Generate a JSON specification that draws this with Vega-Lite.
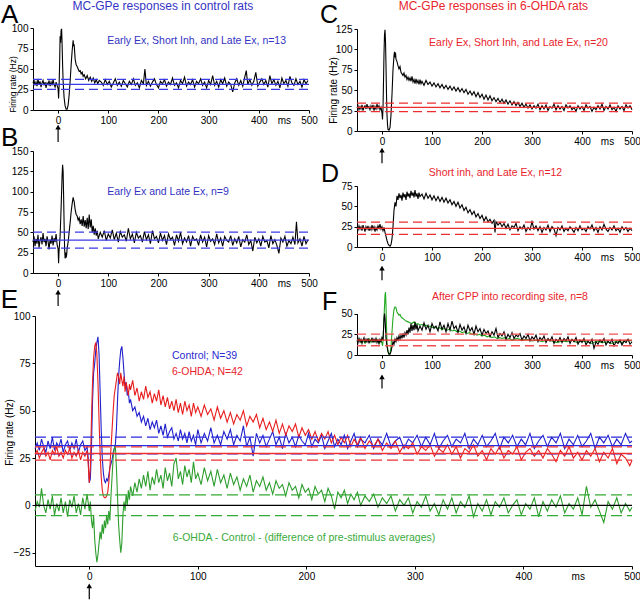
{
"$schema": "https://vega.github.io/schema/vega-lite/v6.json",
"width": 640, "height": 600, "autosize": "none", "padding": 0, "background": "white",
"config": {
  "view": {"stroke": null},
  "axis": {"grid": false, "domainColor": "#000", "tickColor": "#000", "labelColor": "#000", "labelFont": "Liberation Sans Narrow, Liberation Sans, Arial, sans-serif", "labelFontSize": 10, "tickSize": 3, "labelPadding": 2, "domainWidth": 1, "titleFont": "Liberation Sans Narrow, Liberation Sans, Arial, sans-serif", "titleFontWeight": "normal", "titleColor": "#000", "labelFlush": false, "labelOverlap": false},
  "text": {"font": "Liberation Sans, Arial, sans-serif"}
},
"datasets": {
"A": [{"t":-50,"v":33},{"t":-48,"v":36},{"t":-46,"v":30},{"t":-44,"v":34},{"t":-42,"v":29},{"t":-40,"v":38},{"t":-38,"v":31},{"t":-36,"v":35},{"t":-34,"v":28},{"t":-32,"v":33},{"t":-30,"v":36},{"t":-28,"v":30},{"t":-26,"v":34},{"t":-24,"v":27},{"t":-22,"v":33},{"t":-20,"v":31},{"t":-18,"v":36},{"t":-16,"v":29},{"t":-14,"v":34},{"t":-12,"v":30},{"t":-10,"v":37},{"t":-8,"v":31},{"t":-6,"v":28},{"t":-4,"v":34},{"t":-2,"v":30},{"t":0,"v":26},{"t":1,"v":14},{"t":2,"v":30},{"t":3,"v":55},{"t":4,"v":90},{"t":5,"v":82},{"t":6,"v":97},{"t":7,"v":99},{"t":8,"v":80},{"t":9,"v":55},{"t":10,"v":35},{"t":12,"v":15},{"t":14,"v":5},{"t":16,"v":1},{"t":18,"v":1},{"t":20,"v":6},{"t":22,"v":18},{"t":24,"v":35},{"t":26,"v":55},{"t":28,"v":72},{"t":30,"v":85},{"t":31,"v":78},{"t":32,"v":80},{"t":34,"v":62},{"t":36,"v":55},{"t":38,"v":53},{"t":40,"v":50},{"t":42,"v":47},{"t":44,"v":48},{"t":46,"v":44},{"t":48,"v":46},{"t":50,"v":41},{"t":52,"v":43},{"t":55,"v":38},{"t":58,"v":42},{"t":61,"v":36},{"t":64,"v":40},{"t":67,"v":35},{"t":70,"v":39},{"t":73,"v":33},{"t":76,"v":37},{"t":79,"v":32},{"t":82,"v":36},{"t":86,"v":34},{"t":90,"v":30},{"t":94,"v":37},{"t":98,"v":31},{"t":102,"v":35},{"t":106,"v":28},{"t":110,"v":33},{"t":114,"v":38},{"t":118,"v":30},{"t":122,"v":34},{"t":126,"v":29},{"t":130,"v":36},{"t":134,"v":32},{"t":138,"v":28},{"t":142,"v":35},{"t":146,"v":31},{"t":150,"v":38},{"t":154,"v":30},{"t":158,"v":33},{"t":162,"v":27},{"t":166,"v":36},{"t":170,"v":32},{"t":173,"v":50},{"t":176,"v":30},{"t":180,"v":35},{"t":184,"v":29},{"t":188,"v":34},{"t":192,"v":38},{"t":196,"v":31},{"t":200,"v":27},{"t":204,"v":35},{"t":208,"v":32},{"t":212,"v":37},{"t":216,"v":29},{"t":220,"v":34},{"t":224,"v":31},{"t":228,"v":39},{"t":232,"v":30},{"t":236,"v":33},{"t":240,"v":27},{"t":244,"v":36},{"t":248,"v":32},{"t":252,"v":40},{"t":256,"v":29},{"t":260,"v":34},{"t":264,"v":31},{"t":268,"v":37},{"t":272,"v":28},{"t":276,"v":35},{"t":280,"v":32},{"t":284,"v":38},{"t":288,"v":30},{"t":292,"v":34},{"t":296,"v":27},{"t":300,"v":36},{"t":304,"v":31},{"t":308,"v":42},{"t":312,"v":30},{"t":316,"v":35},{"t":320,"v":28},{"t":324,"v":37},{"t":328,"v":32},{"t":332,"v":39},{"t":336,"v":29},{"t":340,"v":34},{"t":344,"v":31},{"t":348,"v":22},{"t":352,"v":33},{"t":356,"v":38},{"t":360,"v":30},{"t":364,"v":36},{"t":368,"v":29},{"t":372,"v":40},{"t":375,"v":48},{"t":378,"v":31},{"t":382,"v":37},{"t":386,"v":30},{"t":390,"v":35},{"t":394,"v":46},{"t":398,"v":29},{"t":402,"v":34},{"t":406,"v":38},{"t":410,"v":31},{"t":414,"v":36},{"t":418,"v":28},{"t":422,"v":42},{"t":426,"v":32},{"t":430,"v":37},{"t":434,"v":30},{"t":438,"v":35},{"t":442,"v":27},{"t":446,"v":39},{"t":450,"v":32},{"t":454,"v":36},{"t":458,"v":29},{"t":462,"v":41},{"t":466,"v":33},{"t":470,"v":30},{"t":474,"v":38},{"t":478,"v":31},{"t":482,"v":35},{"t":486,"v":28},{"t":490,"v":37},{"t":494,"v":32},{"t":498,"v":36}],
"B": [{"t":-50,"v":38},{"t":-48,"v":45},{"t":-46,"v":33},{"t":-44,"v":42},{"t":-42,"v":36},{"t":-40,"v":47},{"t":-38,"v":31},{"t":-36,"v":40},{"t":-34,"v":44},{"t":-32,"v":35},{"t":-30,"v":49},{"t":-28,"v":38},{"t":-26,"v":42},{"t":-24,"v":33},{"t":-22,"v":45},{"t":-20,"v":39},{"t":-18,"v":29},{"t":-16,"v":41},{"t":-14,"v":36},{"t":-12,"v":46},{"t":-10,"v":34},{"t":-8,"v":43},{"t":-6,"v":38},{"t":-4,"v":48},{"t":-2,"v":35},{"t":0,"v":30},{"t":1,"v":12},{"t":2,"v":28},{"t":4,"v":45},{"t":6,"v":80},{"t":8,"v":120},{"t":9,"v":133},{"t":10,"v":125},{"t":11,"v":95},{"t":12,"v":60},{"t":13,"v":30},{"t":14,"v":18},{"t":15,"v":25},{"t":16,"v":19},{"t":17,"v":22},{"t":18,"v":30},{"t":20,"v":38},{"t":22,"v":50},{"t":24,"v":62},{"t":26,"v":75},{"t":28,"v":85},{"t":30,"v":93},{"t":31,"v":90},{"t":32,"v":88},{"t":34,"v":78},{"t":36,"v":72},{"t":38,"v":70},{"t":40,"v":65},{"t":42,"v":68},{"t":44,"v":60},{"t":46,"v":66},{"t":48,"v":58},{"t":50,"v":70},{"t":52,"v":57},{"t":54,"v":65},{"t":56,"v":55},{"t":58,"v":68},{"t":60,"v":54},{"t":62,"v":72},{"t":64,"v":56},{"t":66,"v":66},{"t":68,"v":50},{"t":70,"v":58},{"t":72,"v":47},{"t":74,"v":55},{"t":76,"v":46},{"t":78,"v":52},{"t":80,"v":42},{"t":84,"v":50},{"t":88,"v":44},{"t":92,"v":52},{"t":96,"v":40},{"t":100,"v":48},{"t":104,"v":43},{"t":108,"v":53},{"t":112,"v":41},{"t":116,"v":49},{"t":120,"v":38},{"t":124,"v":51},{"t":128,"v":44},{"t":132,"v":47},{"t":136,"v":39},{"t":140,"v":55},{"t":144,"v":42},{"t":148,"v":48},{"t":152,"v":37},{"t":156,"v":50},{"t":160,"v":43},{"t":164,"v":46},{"t":168,"v":38},{"t":172,"v":51},{"t":176,"v":41},{"t":180,"v":47},{"t":184,"v":36},{"t":188,"v":52},{"t":192,"v":42},{"t":196,"v":45},{"t":200,"v":37},{"t":204,"v":49},{"t":208,"v":40},{"t":212,"v":46},{"t":216,"v":35},{"t":220,"v":48},{"t":224,"v":41},{"t":228,"v":44},{"t":232,"v":34},{"t":236,"v":47},{"t":240,"v":39},{"t":244,"v":50},{"t":248,"v":36},{"t":252,"v":43},{"t":256,"v":38},{"t":260,"v":46},{"t":264,"v":33},{"t":268,"v":45},{"t":272,"v":40},{"t":276,"v":42},{"t":280,"v":34},{"t":284,"v":47},{"t":288,"v":38},{"t":292,"v":44},{"t":296,"v":32},{"t":300,"v":46},{"t":304,"v":39},{"t":308,"v":42},{"t":312,"v":35},{"t":316,"v":48},{"t":320,"v":37},{"t":324,"v":43},{"t":328,"v":33},{"t":332,"v":45},{"t":336,"v":40},{"t":340,"v":38},{"t":344,"v":46},{"t":348,"v":34},{"t":352,"v":42},{"t":356,"v":37},{"t":360,"v":45},{"t":364,"v":32},{"t":368,"v":41},{"t":372,"v":38},{"t":376,"v":47},{"t":380,"v":35},{"t":384,"v":40},{"t":388,"v":27},{"t":392,"v":44},{"t":396,"v":37},{"t":400,"v":42},{"t":404,"v":33},{"t":408,"v":45},{"t":412,"v":38},{"t":416,"v":40},{"t":420,"v":31},{"t":424,"v":46},{"t":428,"v":36},{"t":432,"v":41},{"t":436,"v":34},{"t":440,"v":24},{"t":444,"v":43},{"t":448,"v":38},{"t":452,"v":45},{"t":456,"v":33},{"t":460,"v":40},{"t":464,"v":36},{"t":468,"v":44},{"t":472,"v":35},{"t":475,"v":63},{"t":478,"v":37},{"t":482,"v":42},{"t":486,"v":33},{"t":490,"v":45},{"t":494,"v":36},{"t":498,"v":41}],
"C": [{"t":-50,"v":28},{"t":-48,"v":31},{"t":-46,"v":26},{"t":-44,"v":30},{"t":-42,"v":27},{"t":-40,"v":32},{"t":-38,"v":25},{"t":-36,"v":29},{"t":-34,"v":31},{"t":-32,"v":27},{"t":-30,"v":33},{"t":-28,"v":28},{"t":-26,"v":30},{"t":-24,"v":26},{"t":-22,"v":31},{"t":-20,"v":28},{"t":-18,"v":32},{"t":-16,"v":25},{"t":-14,"v":30},{"t":-12,"v":27},{"t":-10,"v":33},{"t":-8,"v":28},{"t":-6,"v":31},{"t":-4,"v":26},{"t":-2,"v":29},{"t":0,"v":22},{"t":1,"v":14},{"t":2,"v":28},{"t":3,"v":60},{"t":4,"v":95},{"t":5,"v":118},{"t":6,"v":124},{"t":7,"v":110},{"t":8,"v":80},{"t":9,"v":45},{"t":10,"v":20},{"t":11,"v":8},{"t":12,"v":2},{"t":14,"v":1},{"t":16,"v":4},{"t":18,"v":20},{"t":20,"v":45},{"t":22,"v":75},{"t":24,"v":92},{"t":25,"v":97},{"t":26,"v":90},{"t":27,"v":96},{"t":28,"v":88},{"t":30,"v":85},{"t":32,"v":80},{"t":34,"v":76},{"t":36,"v":79},{"t":38,"v":72},{"t":40,"v":70},{"t":42,"v":68},{"t":44,"v":71},{"t":46,"v":66},{"t":48,"v":68},{"t":50,"v":63},{"t":52,"v":66},{"t":54,"v":62},{"t":56,"v":65},{"t":58,"v":61},{"t":60,"v":67},{"t":62,"v":60},{"t":64,"v":63},{"t":66,"v":58},{"t":68,"v":64},{"t":70,"v":59},{"t":72,"v":62},{"t":74,"v":57},{"t":76,"v":63},{"t":78,"v":58},{"t":80,"v":61},{"t":84,"v":56},{"t":88,"v":62},{"t":92,"v":57},{"t":96,"v":60},{"t":100,"v":55},{"t":104,"v":59},{"t":108,"v":54},{"t":112,"v":58},{"t":116,"v":53},{"t":120,"v":57},{"t":124,"v":52},{"t":128,"v":56},{"t":132,"v":51},{"t":136,"v":55},{"t":140,"v":50},{"t":144,"v":54},{"t":148,"v":49},{"t":152,"v":53},{"t":156,"v":48},{"t":160,"v":52},{"t":164,"v":47},{"t":168,"v":51},{"t":172,"v":45},{"t":176,"v":49},{"t":180,"v":44},{"t":184,"v":48},{"t":188,"v":42},{"t":192,"v":47},{"t":196,"v":41},{"t":200,"v":45},{"t":204,"v":39},{"t":208,"v":44},{"t":212,"v":38},{"t":216,"v":43},{"t":220,"v":37},{"t":224,"v":41},{"t":228,"v":36},{"t":232,"v":40},{"t":236,"v":35},{"t":240,"v":39},{"t":244,"v":34},{"t":248,"v":38},{"t":252,"v":33},{"t":256,"v":37},{"t":260,"v":32},{"t":264,"v":36},{"t":268,"v":31},{"t":272,"v":35},{"t":276,"v":30},{"t":280,"v":34},{"t":284,"v":29},{"t":288,"v":33},{"t":292,"v":28},{"t":296,"v":32},{"t":300,"v":27},{"t":304,"v":31},{"t":308,"v":28},{"t":312,"v":33},{"t":316,"v":26},{"t":320,"v":31},{"t":324,"v":27},{"t":328,"v":32},{"t":332,"v":25},{"t":336,"v":30},{"t":340,"v":28},{"t":344,"v":33},{"t":348,"v":26},{"t":352,"v":31},{"t":356,"v":27},{"t":360,"v":30},{"t":364,"v":25},{"t":368,"v":32},{"t":372,"v":28},{"t":376,"v":31},{"t":380,"v":26},{"t":384,"v":29},{"t":388,"v":24},{"t":392,"v":31},{"t":396,"v":27},{"t":400,"v":30},{"t":404,"v":25},{"t":408,"v":32},{"t":412,"v":28},{"t":416,"v":30},{"t":420,"v":24},{"t":424,"v":29},{"t":428,"v":26},{"t":432,"v":31},{"t":436,"v":27},{"t":440,"v":33},{"t":444,"v":25},{"t":448,"v":30},{"t":452,"v":27},{"t":456,"v":32},{"t":460,"v":26},{"t":464,"v":29},{"t":468,"v":24},{"t":472,"v":31},{"t":476,"v":27},{"t":480,"v":30},{"t":484,"v":25},{"t":488,"v":32},{"t":492,"v":28},{"t":496,"v":31},{"t":500,"v":26}],
"D": [{"t":-50,"v":24},{"t":-48,"v":21},{"t":-46,"v":26},{"t":-44,"v":22},{"t":-42,"v":25},{"t":-40,"v":20},{"t":-38,"v":27},{"t":-36,"v":23},{"t":-34,"v":19},{"t":-32,"v":25},{"t":-30,"v":22},{"t":-28,"v":26},{"t":-26,"v":20},{"t":-24,"v":24},{"t":-22,"v":21},{"t":-20,"v":27},{"t":-18,"v":22},{"t":-16,"v":25},{"t":-14,"v":19},{"t":-12,"v":24},{"t":-10,"v":21},{"t":-8,"v":26},{"t":-6,"v":23},{"t":-4,"v":28},{"t":-2,"v":22},{"t":0,"v":25},{"t":2,"v":20},{"t":4,"v":24},{"t":6,"v":18},{"t":8,"v":13},{"t":10,"v":8},{"t":12,"v":4},{"t":14,"v":2},{"t":16,"v":1},{"t":18,"v":3},{"t":20,"v":10},{"t":22,"v":25},{"t":24,"v":45},{"t":26,"v":55},{"t":28,"v":50},{"t":30,"v":63},{"t":32,"v":58},{"t":34,"v":66},{"t":36,"v":60},{"t":38,"v":64},{"t":40,"v":57},{"t":42,"v":67},{"t":44,"v":61},{"t":46,"v":65},{"t":48,"v":58},{"t":50,"v":68},{"t":52,"v":62},{"t":54,"v":66},{"t":56,"v":60},{"t":58,"v":69},{"t":60,"v":63},{"t":62,"v":67},{"t":64,"v":61},{"t":66,"v":70},{"t":68,"v":62},{"t":70,"v":66},{"t":72,"v":59},{"t":74,"v":67},{"t":76,"v":62},{"t":80,"v":65},{"t":84,"v":59},{"t":88,"v":66},{"t":92,"v":60},{"t":96,"v":64},{"t":100,"v":58},{"t":104,"v":63},{"t":108,"v":57},{"t":112,"v":62},{"t":116,"v":56},{"t":120,"v":61},{"t":124,"v":55},{"t":128,"v":60},{"t":132,"v":54},{"t":136,"v":58},{"t":140,"v":52},{"t":144,"v":56},{"t":148,"v":50},{"t":152,"v":55},{"t":156,"v":48},{"t":160,"v":52},{"t":164,"v":45},{"t":168,"v":49},{"t":172,"v":42},{"t":176,"v":46},{"t":180,"v":40},{"t":184,"v":44},{"t":188,"v":37},{"t":192,"v":41},{"t":196,"v":35},{"t":200,"v":39},{"t":204,"v":32},{"t":208,"v":37},{"t":212,"v":31},{"t":216,"v":34},{"t":220,"v":29},{"t":224,"v":33},{"t":226,"v":18},{"t":228,"v":31},{"t":232,"v":27},{"t":236,"v":30},{"t":240,"v":25},{"t":244,"v":29},{"t":248,"v":23},{"t":252,"v":28},{"t":256,"v":21},{"t":260,"v":26},{"t":264,"v":24},{"t":268,"v":29},{"t":272,"v":20},{"t":276,"v":25},{"t":280,"v":22},{"t":284,"v":27},{"t":288,"v":19},{"t":292,"v":24},{"t":296,"v":21},{"t":300,"v":31},{"t":304,"v":22},{"t":308,"v":26},{"t":312,"v":20},{"t":316,"v":25},{"t":320,"v":18},{"t":324,"v":24},{"t":328,"v":21},{"t":332,"v":27},{"t":336,"v":19},{"t":340,"v":25},{"t":344,"v":22},{"t":348,"v":14},{"t":352,"v":24},{"t":356,"v":21},{"t":360,"v":26},{"t":364,"v":19},{"t":368,"v":23},{"t":372,"v":20},{"t":376,"v":25},{"t":380,"v":22},{"t":384,"v":18},{"t":388,"v":24},{"t":392,"v":20},{"t":396,"v":26},{"t":400,"v":21},{"t":404,"v":23},{"t":408,"v":19},{"t":412,"v":25},{"t":416,"v":22},{"t":420,"v":27},{"t":424,"v":20},{"t":428,"v":24},{"t":432,"v":18},{"t":436,"v":25},{"t":440,"v":21},{"t":444,"v":28},{"t":448,"v":22},{"t":452,"v":19},{"t":456,"v":24},{"t":460,"v":21},{"t":464,"v":26},{"t":468,"v":20},{"t":472,"v":23},{"t":476,"v":18},{"t":480,"v":25},{"t":484,"v":21},{"t":488,"v":24},{"t":492,"v":19},{"t":496,"v":23},{"t":500,"v":20}],
"Fb": [{"t":-50,"v":18},{"t":-48,"v":15},{"t":-46,"v":20},{"t":-44,"v":16},{"t":-42,"v":19},{"t":-40,"v":14},{"t":-38,"v":18},{"t":-36,"v":21},{"t":-34,"v":15},{"t":-32,"v":19},{"t":-30,"v":16},{"t":-28,"v":20},{"t":-26,"v":14},{"t":-24,"v":18},{"t":-22,"v":17},{"t":-20,"v":21},{"t":-18,"v":15},{"t":-16,"v":19},{"t":-14,"v":16},{"t":-12,"v":20},{"t":-10,"v":15},{"t":-8,"v":18},{"t":-6,"v":14},{"t":-4,"v":19},{"t":-2,"v":16},{"t":0,"v":21},{"t":2,"v":18},{"t":3,"v":30},{"t":4,"v":44},{"t":5,"v":50},{"t":6,"v":45},{"t":7,"v":32},{"t":8,"v":20},{"t":10,"v":10},{"t":12,"v":4},{"t":14,"v":1},{"t":16,"v":1},{"t":18,"v":4},{"t":20,"v":10},{"t":22,"v":16},{"t":24,"v":13},{"t":26,"v":19},{"t":28,"v":16},{"t":30,"v":21},{"t":32,"v":18},{"t":34,"v":23},{"t":36,"v":19},{"t":38,"v":24},{"t":40,"v":20},{"t":42,"v":26},{"t":44,"v":21},{"t":46,"v":27},{"t":48,"v":24},{"t":50,"v":30},{"t":52,"v":25},{"t":54,"v":33},{"t":56,"v":27},{"t":58,"v":38},{"t":60,"v":29},{"t":62,"v":36},{"t":64,"v":30},{"t":66,"v":40},{"t":68,"v":31},{"t":70,"v":37},{"t":72,"v":29},{"t":76,"v":35},{"t":80,"v":30},{"t":84,"v":39},{"t":88,"v":31},{"t":92,"v":36},{"t":96,"v":28},{"t":100,"v":38},{"t":104,"v":32},{"t":108,"v":35},{"t":112,"v":29},{"t":116,"v":40},{"t":120,"v":31},{"t":124,"v":36},{"t":128,"v":28},{"t":132,"v":38},{"t":136,"v":30},{"t":140,"v":41},{"t":144,"v":32},{"t":148,"v":35},{"t":152,"v":27},{"t":156,"v":37},{"t":160,"v":30},{"t":164,"v":34},{"t":168,"v":26},{"t":172,"v":36},{"t":176,"v":29},{"t":180,"v":33},{"t":184,"v":25},{"t":188,"v":35},{"t":192,"v":28},{"t":196,"v":32},{"t":200,"v":24},{"t":204,"v":31},{"t":208,"v":26},{"t":212,"v":29},{"t":216,"v":22},{"t":220,"v":28},{"t":224,"v":24},{"t":228,"v":32},{"t":232,"v":21},{"t":236,"v":26},{"t":240,"v":23},{"t":244,"v":28},{"t":248,"v":19},{"t":252,"v":25},{"t":256,"v":21},{"t":260,"v":27},{"t":264,"v":20},{"t":268,"v":24},{"t":272,"v":22},{"t":276,"v":26},{"t":280,"v":18},{"t":284,"v":23},{"t":288,"v":20},{"t":292,"v":25},{"t":296,"v":17},{"t":300,"v":22},{"t":304,"v":19},{"t":308,"v":24},{"t":312,"v":16},{"t":316,"v":21},{"t":320,"v":18},{"t":324,"v":23},{"t":328,"v":15},{"t":332,"v":20},{"t":336,"v":17},{"t":340,"v":22},{"t":344,"v":14},{"t":348,"v":19},{"t":352,"v":16},{"t":356,"v":21},{"t":360,"v":15},{"t":364,"v":20},{"t":368,"v":17},{"t":372,"v":22},{"t":376,"v":14},{"t":380,"v":19},{"t":384,"v":16},{"t":388,"v":21},{"t":392,"v":13},{"t":396,"v":18},{"t":400,"v":15},{"t":404,"v":20},{"t":408,"v":12},{"t":412,"v":17},{"t":416,"v":14},{"t":420,"v":19},{"t":424,"v":8},{"t":428,"v":16},{"t":432,"v":13},{"t":436,"v":18},{"t":440,"v":15},{"t":444,"v":20},{"t":448,"v":12},{"t":452,"v":17},{"t":456,"v":14},{"t":460,"v":19},{"t":464,"v":11},{"t":468,"v":16},{"t":472,"v":14},{"t":476,"v":18},{"t":480,"v":12},{"t":484,"v":17},{"t":488,"v":15},{"t":492,"v":19},{"t":496,"v":13},{"t":500,"v":16}],
"Fg": [{"t":-50,"v":16},{"t":-46,"v":19},{"t":-42,"v":15},{"t":-38,"v":18},{"t":-34,"v":14},{"t":-30,"v":17},{"t":-26,"v":20},{"t":-22,"v":15},{"t":-18,"v":18},{"t":-14,"v":16},{"t":-10,"v":19},{"t":-6,"v":14},{"t":-2,"v":17},{"t":0,"v":15},{"t":1,"v":11},{"t":2,"v":16},{"t":4,"v":45},{"t":6,"v":72},{"t":7,"v":76},{"t":8,"v":60},{"t":9,"v":35},{"t":10,"v":15},{"t":12,"v":4},{"t":14,"v":1},{"t":16,"v":2},{"t":18,"v":10},{"t":20,"v":28},{"t":22,"v":45},{"t":24,"v":55},{"t":26,"v":58},{"t":28,"v":57},{"t":30,"v":52},{"t":32,"v":50},{"t":34,"v":48},{"t":36,"v":49},{"t":38,"v":46},{"t":40,"v":45},{"t":44,"v":43},{"t":48,"v":41},{"t":52,"v":40},{"t":56,"v":39},{"t":60,"v":38},{"t":64,"v":40},{"t":68,"v":37},{"t":72,"v":38},{"t":76,"v":36},{"t":80,"v":37},{"t":84,"v":35},{"t":88,"v":36},{"t":92,"v":34},{"t":96,"v":35},{"t":100,"v":33},{"t":105,"v":34},{"t":110,"v":32},{"t":115,"v":33},{"t":120,"v":31},{"t":125,"v":32},{"t":130,"v":30},{"t":135,"v":31},{"t":140,"v":29},{"t":145,"v":30},{"t":150,"v":28},{"t":155,"v":29},{"t":160,"v":27},{"t":165,"v":28},{"t":170,"v":26},{"t":175,"v":27},{"t":180,"v":25},{"t":185,"v":26},{"t":190,"v":24},{"t":195,"v":25},{"t":200,"v":23},{"t":205,"v":24},{"t":210,"v":22},{"t":215,"v":23},{"t":220,"v":21},{"t":225,"v":22},{"t":230,"v":20},{"t":235,"v":21},{"t":240,"v":20},{"t":245,"v":21},{"t":250,"v":19},{"t":255,"v":20},{"t":260,"v":18},{"t":270,"v":20},{"t":280,"v":18},{"t":290,"v":19},{"t":300,"v":17},{"t":310,"v":18},{"t":320,"v":16},{"t":330,"v":18},{"t":340,"v":17},{"t":350,"v":15},{"t":360,"v":17},{"t":370,"v":16},{"t":380,"v":18},{"t":390,"v":15},{"t":400,"v":17},{"t":410,"v":16},{"t":420,"v":14},{"t":430,"v":17},{"t":440,"v":15},{"t":450,"v":16},{"t":460,"v":14},{"t":470,"v":17},{"t":480,"v":15},{"t":490,"v":18},{"t":500,"v":17}],
"Eb": [{"t":-50,"v":30},{"t":-48,"v":33},{"t":-46,"v":29},{"t":-44,"v":35},{"t":-42,"v":31},{"t":-40,"v":28},{"t":-38,"v":34},{"t":-36,"v":30},{"t":-34,"v":36},{"t":-32,"v":29},{"t":-30,"v":33},{"t":-28,"v":31},{"t":-26,"v":35},{"t":-24,"v":28},{"t":-22,"v":32},{"t":-20,"v":34},{"t":-18,"v":29},{"t":-16,"v":33},{"t":-14,"v":30},{"t":-12,"v":35},{"t":-10,"v":28},{"t":-8,"v":32},{"t":-6,"v":34},{"t":-4,"v":29},{"t":-2,"v":31},{"t":-1,"v":25},{"t":0,"v":12},{"t":1,"v":14},{"t":2,"v":30},{"t":3,"v":55},{"t":4,"v":70},{"t":5,"v":75},{"t":6,"v":82},{"t":7,"v":86},{"t":8,"v":89},{"t":9,"v":80},{"t":10,"v":60},{"t":11,"v":40},{"t":12,"v":25},{"t":13,"v":17},{"t":14,"v":13},{"t":15,"v":12},{"t":16,"v":14},{"t":17,"v":13},{"t":18,"v":16},{"t":19,"v":20},{"t":20,"v":22},{"t":21,"v":24},{"t":22,"v":28},{"t":23,"v":30},{"t":24,"v":32},{"t":25,"v":40},{"t":26,"v":55},{"t":27,"v":68},{"t":28,"v":76},{"t":29,"v":82},{"t":30,"v":84},{"t":31,"v":78},{"t":32,"v":70},{"t":33,"v":63},{"t":34,"v":65},{"t":35,"v":58},{"t":36,"v":60},{"t":37,"v":54},{"t":38,"v":56},{"t":40,"v":50},{"t":42,"v":52},{"t":44,"v":47},{"t":46,"v":49},{"t":48,"v":44},{"t":50,"v":47},{"t":52,"v":42},{"t":54,"v":46},{"t":56,"v":40},{"t":58,"v":44},{"t":60,"v":41},{"t":62,"v":45},{"t":64,"v":38},{"t":66,"v":42},{"t":68,"v":37},{"t":70,"v":43},{"t":72,"v":36},{"t":74,"v":39},{"t":76,"v":41},{"t":78,"v":35},{"t":80,"v":38},{"t":82,"v":34},{"t":84,"v":40},{"t":86,"v":35},{"t":88,"v":38},{"t":90,"v":33},{"t":92,"v":39},{"t":94,"v":34},{"t":96,"v":37},{"t":98,"v":32},{"t":100,"v":40},{"t":103,"v":33},{"t":106,"v":38},{"t":109,"v":34},{"t":112,"v":41},{"t":115,"v":33},{"t":118,"v":37},{"t":121,"v":32},{"t":124,"v":39},{"t":127,"v":35},{"t":130,"v":40},{"t":133,"v":32},{"t":136,"v":37},{"t":139,"v":34},{"t":142,"v":42},{"t":145,"v":31},{"t":148,"v":36},{"t":151,"v":26},{"t":154,"v":38},{"t":157,"v":33},{"t":160,"v":37},{"t":163,"v":31},{"t":166,"v":35},{"t":169,"v":39},{"t":172,"v":32},{"t":175,"v":36},{"t":178,"v":30},{"t":181,"v":38},{"t":184,"v":33},{"t":187,"v":36},{"t":190,"v":31},{"t":193,"v":37},{"t":196,"v":34},{"t":199,"v":32},{"t":202,"v":38},{"t":205,"v":31},{"t":208,"v":35},{"t":211,"v":33},{"t":214,"v":37},{"t":217,"v":30},{"t":220,"v":34},{"t":223,"v":38},{"t":226,"v":31},{"t":229,"v":35},{"t":232,"v":32},{"t":235,"v":37},{"t":238,"v":30},{"t":241,"v":34},{"t":244,"v":38},{"t":247,"v":31},{"t":250,"v":35},{"t":254,"v":33},{"t":258,"v":37},{"t":262,"v":30},{"t":266,"v":35},{"t":270,"v":32},{"t":274,"v":38},{"t":278,"v":31},{"t":282,"v":34},{"t":286,"v":36},{"t":290,"v":30},{"t":294,"v":35},{"t":298,"v":33},{"t":302,"v":37},{"t":306,"v":31},{"t":310,"v":36},{"t":314,"v":32},{"t":318,"v":38},{"t":322,"v":30},{"t":326,"v":34},{"t":330,"v":37},{"t":334,"v":31},{"t":338,"v":35},{"t":342,"v":33},{"t":346,"v":38},{"t":350,"v":30},{"t":354,"v":35},{"t":358,"v":32},{"t":362,"v":37},{"t":366,"v":31},{"t":370,"v":34},{"t":374,"v":38},{"t":378,"v":30},{"t":382,"v":36},{"t":386,"v":33},{"t":390,"v":37},{"t":394,"v":31},{"t":398,"v":35},{"t":402,"v":32},{"t":406,"v":38},{"t":410,"v":30},{"t":414,"v":34},{"t":418,"v":37},{"t":422,"v":31},{"t":426,"v":36},{"t":430,"v":33},{"t":434,"v":38},{"t":438,"v":30},{"t":442,"v":35},{"t":446,"v":32},{"t":450,"v":37},{"t":454,"v":31},{"t":458,"v":34},{"t":462,"v":38},{"t":466,"v":30},{"t":470,"v":36},{"t":474,"v":33},{"t":478,"v":37},{"t":482,"v":31},{"t":486,"v":35},{"t":490,"v":32},{"t":494,"v":38},{"t":498,"v":33},{"t":500,"v":34}],
"Er": [{"t":-50,"v":27},{"t":-48,"v":29},{"t":-46,"v":25},{"t":-44,"v":28},{"t":-42,"v":30},{"t":-40,"v":26},{"t":-38,"v":28},{"t":-36,"v":24},{"t":-34,"v":29},{"t":-32,"v":27},{"t":-30,"v":31},{"t":-28,"v":26},{"t":-26,"v":28},{"t":-24,"v":25},{"t":-22,"v":29},{"t":-20,"v":27},{"t":-18,"v":30},{"t":-16,"v":25},{"t":-14,"v":28},{"t":-12,"v":26},{"t":-10,"v":29},{"t":-8,"v":24},{"t":-6,"v":28},{"t":-4,"v":26},{"t":-2,"v":29},{"t":-1,"v":22},{"t":0,"v":12},{"t":1,"v":20},{"t":2,"v":45},{"t":3,"v":65},{"t":4,"v":78},{"t":5,"v":84},{"t":6,"v":86},{"t":7,"v":80},{"t":8,"v":65},{"t":9,"v":45},{"t":10,"v":28},{"t":11,"v":15},{"t":12,"v":8},{"t":13,"v":5},{"t":14,"v":4},{"t":15,"v":4},{"t":16,"v":5},{"t":17,"v":7},{"t":18,"v":12},{"t":19,"v":20},{"t":20,"v":30},{"t":21,"v":40},{"t":22,"v":50},{"t":23,"v":58},{"t":24,"v":62},{"t":25,"v":66},{"t":26,"v":70},{"t":27,"v":68},{"t":28,"v":64},{"t":29,"v":70},{"t":30,"v":66},{"t":31,"v":63},{"t":32,"v":68},{"t":33,"v":60},{"t":34,"v":65},{"t":35,"v":62},{"t":36,"v":58},{"t":37,"v":64},{"t":38,"v":61},{"t":40,"v":66},{"t":42,"v":58},{"t":44,"v":62},{"t":46,"v":55},{"t":48,"v":60},{"t":50,"v":56},{"t":52,"v":63},{"t":54,"v":57},{"t":56,"v":60},{"t":58,"v":54},{"t":60,"v":59},{"t":62,"v":55},{"t":64,"v":61},{"t":66,"v":53},{"t":68,"v":58},{"t":70,"v":52},{"t":72,"v":57},{"t":74,"v":51},{"t":76,"v":55},{"t":78,"v":50},{"t":80,"v":56},{"t":82,"v":49},{"t":84,"v":54},{"t":86,"v":48},{"t":88,"v":55},{"t":90,"v":50},{"t":92,"v":53},{"t":94,"v":47},{"t":96,"v":54},{"t":98,"v":49},{"t":100,"v":52},{"t":103,"v":47},{"t":106,"v":53},{"t":109,"v":48},{"t":112,"v":51},{"t":115,"v":45},{"t":118,"v":52},{"t":121,"v":46},{"t":124,"v":50},{"t":127,"v":44},{"t":130,"v":49},{"t":133,"v":43},{"t":136,"v":48},{"t":139,"v":45},{"t":142,"v":50},{"t":145,"v":42},{"t":148,"v":47},{"t":151,"v":44},{"t":154,"v":48},{"t":157,"v":41},{"t":160,"v":46},{"t":163,"v":40},{"t":166,"v":44},{"t":169,"v":39},{"t":172,"v":45},{"t":175,"v":38},{"t":178,"v":43},{"t":181,"v":37},{"t":184,"v":42},{"t":187,"v":39},{"t":190,"v":43},{"t":193,"v":36},{"t":196,"v":41},{"t":199,"v":37},{"t":202,"v":40},{"t":205,"v":35},{"t":208,"v":39},{"t":211,"v":34},{"t":214,"v":38},{"t":217,"v":35},{"t":220,"v":39},{"t":223,"v":33},{"t":226,"v":37},{"t":229,"v":32},{"t":232,"v":36},{"t":235,"v":33},{"t":238,"v":37},{"t":241,"v":31},{"t":244,"v":35},{"t":247,"v":32},{"t":250,"v":36},{"t":254,"v":30},{"t":258,"v":34},{"t":262,"v":31},{"t":266,"v":35},{"t":270,"v":29},{"t":274,"v":33},{"t":278,"v":30},{"t":282,"v":34},{"t":286,"v":28},{"t":290,"v":32},{"t":294,"v":30},{"t":298,"v":33},{"t":302,"v":27},{"t":306,"v":31},{"t":310,"v":29},{"t":314,"v":32},{"t":318,"v":26},{"t":322,"v":30},{"t":326,"v":28},{"t":330,"v":32},{"t":334,"v":27},{"t":338,"v":31},{"t":342,"v":25},{"t":346,"v":30},{"t":350,"v":28},{"t":354,"v":32},{"t":358,"v":26},{"t":362,"v":29},{"t":366,"v":24},{"t":370,"v":30},{"t":374,"v":27},{"t":378,"v":31},{"t":382,"v":25},{"t":386,"v":29},{"t":390,"v":27},{"t":394,"v":31},{"t":398,"v":24},{"t":402,"v":28},{"t":406,"v":30},{"t":410,"v":26},{"t":414,"v":29},{"t":418,"v":25},{"t":422,"v":30},{"t":426,"v":27},{"t":430,"v":23},{"t":434,"v":29},{"t":438,"v":26},{"t":442,"v":31},{"t":446,"v":25},{"t":450,"v":28},{"t":454,"v":24},{"t":458,"v":29},{"t":462,"v":26},{"t":466,"v":30},{"t":470,"v":23},{"t":474,"v":28},{"t":478,"v":25},{"t":482,"v":30},{"t":486,"v":22},{"t":490,"v":27},{"t":494,"v":25},{"t":498,"v":21},{"t":500,"v":24}],
"Eg": [{"t":-50,"v":-3},{"t":-48,"v":2},{"t":-46,"v":-1},{"t":-44,"v":9},{"t":-42,"v":0},{"t":-40,"v":-4},{"t":-38,"v":3},{"t":-36,"v":-2},{"t":-34,"v":5},{"t":-32,"v":-5},{"t":-30,"v":1},{"t":-28,"v":-3},{"t":-26,"v":4},{"t":-24,"v":-4},{"t":-22,"v":2},{"t":-20,"v":-6},{"t":-18,"v":3},{"t":-16,"v":-1},{"t":-14,"v":5},{"t":-12,"v":-4},{"t":-10,"v":1},{"t":-8,"v":-5},{"t":-6,"v":4},{"t":-4,"v":-2},{"t":-2,"v":6},{"t":0,"v":-3},{"t":1,"v":2},{"t":2,"v":-8},{"t":3,"v":-12},{"t":4,"v":-5},{"t":5,"v":-18},{"t":6,"v":-25},{"t":7,"v":-30},{"t":8,"v":-26},{"t":9,"v":-20},{"t":10,"v":-14},{"t":11,"v":-18},{"t":12,"v":-10},{"t":13,"v":-15},{"t":14,"v":-8},{"t":15,"v":-12},{"t":16,"v":-5},{"t":17,"v":-10},{"t":18,"v":-3},{"t":19,"v":-8},{"t":20,"v":5},{"t":21,"v":15},{"t":22,"v":25},{"t":23,"v":30},{"t":24,"v":32},{"t":25,"v":20},{"t":26,"v":5},{"t":27,"v":-10},{"t":28,"v":-18},{"t":29,"v":-25},{"t":30,"v":-20},{"t":31,"v":-5},{"t":32,"v":2},{"t":33,"v":-3},{"t":34,"v":6},{"t":35,"v":0},{"t":36,"v":8},{"t":37,"v":3},{"t":38,"v":10},{"t":40,"v":5},{"t":42,"v":12},{"t":44,"v":7},{"t":46,"v":14},{"t":48,"v":9},{"t":50,"v":16},{"t":52,"v":10},{"t":54,"v":18},{"t":56,"v":8},{"t":58,"v":15},{"t":60,"v":11},{"t":62,"v":19},{"t":64,"v":12},{"t":66,"v":16},{"t":68,"v":9},{"t":70,"v":20},{"t":72,"v":13},{"t":74,"v":17},{"t":76,"v":10},{"t":78,"v":22},{"t":80,"v":25},{"t":82,"v":14},{"t":84,"v":18},{"t":86,"v":11},{"t":88,"v":21},{"t":90,"v":15},{"t":92,"v":19},{"t":94,"v":12},{"t":96,"v":23},{"t":98,"v":14},{"t":100,"v":17},{"t":103,"v":11},{"t":106,"v":20},{"t":109,"v":13},{"t":112,"v":18},{"t":115,"v":10},{"t":118,"v":19},{"t":121,"v":12},{"t":124,"v":16},{"t":127,"v":9},{"t":130,"v":17},{"t":133,"v":11},{"t":136,"v":15},{"t":139,"v":8},{"t":142,"v":14},{"t":145,"v":10},{"t":148,"v":16},{"t":151,"v":7},{"t":154,"v":13},{"t":157,"v":10},{"t":160,"v":15},{"t":163,"v":8},{"t":166,"v":12},{"t":169,"v":6},{"t":172,"v":13},{"t":175,"v":9},{"t":178,"v":11},{"t":181,"v":5},{"t":184,"v":12},{"t":187,"v":8},{"t":190,"v":10},{"t":193,"v":4},{"t":196,"v":11},{"t":199,"v":7},{"t":202,"v":9},{"t":205,"v":3},{"t":208,"v":10},{"t":211,"v":6},{"t":214,"v":8},{"t":217,"v":2},{"t":220,"v":9},{"t":223,"v":5},{"t":226,"v":-2},{"t":229,"v":7},{"t":232,"v":4},{"t":235,"v":8},{"t":238,"v":1},{"t":241,"v":6},{"t":244,"v":3},{"t":247,"v":7},{"t":250,"v":0},{"t":254,"v":5},{"t":258,"v":2},{"t":262,"v":6},{"t":266,"v":-1},{"t":270,"v":4},{"t":274,"v":1},{"t":278,"v":5},{"t":282,"v":-3},{"t":286,"v":3},{"t":290,"v":0},{"t":294,"v":4},{"t":298,"v":-4},{"t":302,"v":2},{"t":306,"v":-1},{"t":310,"v":5},{"t":314,"v":-3},{"t":318,"v":1},{"t":322,"v":-5},{"t":326,"v":3},{"t":330,"v":-2},{"t":334,"v":4},{"t":338,"v":-4},{"t":342,"v":2},{"t":346,"v":-1},{"t":350,"v":5},{"t":354,"v":-6},{"t":358,"v":1},{"t":362,"v":-3},{"t":366,"v":3},{"t":370,"v":-5},{"t":374,"v":2},{"t":378,"v":-1},{"t":382,"v":4},{"t":386,"v":-4},{"t":390,"v":0},{"t":394,"v":3},{"t":398,"v":-5},{"t":402,"v":1},{"t":406,"v":-2},{"t":410,"v":4},{"t":414,"v":-6},{"t":418,"v":2},{"t":422,"v":-3},{"t":426,"v":3},{"t":430,"v":-1},{"t":434,"v":5},{"t":438,"v":-4},{"t":442,"v":1},{"t":446,"v":-2},{"t":450,"v":4},{"t":454,"v":-5},{"t":458,"v":10},{"t":462,"v":-1},{"t":466,"v":3},{"t":470,"v":-3},{"t":474,"v":-9},{"t":478,"v":2},{"t":482,"v":-2},{"t":486,"v":4},{"t":490,"v":-4},{"t":494,"v":1},{"t":498,"v":-3},{"t":500,"v":-1}],
"refs": [
 {"p":"A","k":"m","y":31.3,"a":-50,"b":500},{"p":"A","k":"d","y":37.4,"a":-50,"b":500},{"p":"A","k":"d","y":25.2,"a":-50,"b":500},
 {"p":"B","k":"m","y":40.5,"a":-50,"b":500},{"p":"B","k":"d","y":50.2,"a":-50,"b":500},{"p":"B","k":"d","y":30.5,"a":-50,"b":500},
 {"p":"C","k":"m","y":29,"a":-50,"b":500},{"p":"C","k":"d","y":34.2,"a":-50,"b":500},{"p":"C","k":"d","y":23.8,"a":-50,"b":500},
 {"p":"D","k":"m","y":23,"a":-50,"b":500},{"p":"D","k":"d","y":30.7,"a":-50,"b":500},{"p":"D","k":"d","y":15.5,"a":-50,"b":500},
 {"p":"F","k":"m","y":18,"a":-50,"b":500},{"p":"F","k":"d","y":25.3,"a":-50,"b":500},{"p":"F","k":"d","y":11.2,"a":-50,"b":500},
 {"p":"E","k":"bm","y":31.6,"a":-50,"b":500},{"p":"E","k":"bd","y":36,"a":-50,"b":500},{"p":"E","k":"bd","y":27.2,"a":-50,"b":500},
 {"p":"E","k":"rm","y":27.4,"a":-50,"b":500},{"p":"E","k":"rd","y":30.9,"a":-50,"b":500},{"p":"E","k":"rd","y":23.9,"a":-50,"b":500},
 {"p":"E","k":"gd","y":5.6,"a":-50,"b":500},{"p":"E","k":"gd","y":-5.4,"a":-50,"b":500},{"p":"E","k":"z","y":0,"a":-50,"b":500}
],
"arrows": [
 {"p":"A","t":0,"tip":-21,"end":-39},{"p":"B","t":0,"tip":-23.5,"end":-40.5},{"p":"C","t":0,"tip":-23.5,"end":-39.5},
 {"p":"D","t":0,"tip":-26,"end":-41},{"p":"F","t":0,"tip":-26.5,"end":-40.5},{"p":"E","t":0,"tip":-42.5,"end":-49.5}
],
"texts": [
 {"p":"A","k":"title","t":209,"v":122,"txt":"MC-GPe responses in control rats"},
 {"p":"C","k":"title","t":222.7,"v":148.3,"txt":"MC-GPe responses in 6-OHDA rats"},
 {"p":"A","k":"ann","t":276,"v":84.5,"txt":"Early Ex, Short Inh, and Late Ex, n=13"},
 {"p":"B","k":"ann","t":219,"v":100,"txt":"Early Ex and Late Ex, n=9"},
 {"p":"C","k":"ann","t":273,"v":107.5,"txt":"Early Ex, Short Inh, and Late Ex, n=20"},
 {"p":"D","k":"ann","t":227,"v":91,"txt":"Short inh, and Late Ex, n=12"},
 {"p":"F","k":"ann","t":256,"v":70,"txt":"After CPP into recording site, n=8"},
 {"p":"E","k":"blue","t":76.2,"v":79,"txt":"Control; N=39"},
 {"p":"E","k":"red","t":76.2,"v":70.5,"txt":"6-OHDA; N=42"},
 {"p":"E","k":"green","t":77,"v":-17.4,"txt":"6-OHDA - Control - (difference of pre-stimulus averages)"},
 {"p":"A","k":"letter","t":-114,"v":106.1,"txt":"A"},
 {"p":"B","k":"letter","t":-114,"v":156.2,"txt":"B"},
 {"p":"C","k":"letter","t":-124,"v":132.4,"txt":"C"},
 {"p":"D","k":"letter","t":-122,"v":80,"txt":"D"},
 {"p":"E","k":"letter","t":-81.5,"v":104.2,"txt":"E"},
 {"p":"F","k":"letter","t":-120,"v":54.4,"txt":"F"}
]
},
"layer": [
 {"layer": [
  {"data": {"name": "A"}, "mark": {"type": "line", "color": "#000", "strokeWidth": 1.1},
   "encoding": {
    "x": {"field": "t", "type": "quantitative", "scale": {"domain": [-50, 500], "range": [33, 309], "nice": false, "zero": false},
          "axis": {"orient": "bottom", "offset": -490, "values": [0,100,200,300,400,450,500], "labelExpr": "datum.value==450?'ms':datum.label", "tickOpacity": {"condition": {"test": "datum.value==450", "value": 0}, "value": 1}, "title": null}},
    "y": {"field": "v", "type": "quantitative", "scale": {"domain": [0, 100], "range": [110, 28], "nice": false, "zero": false},
          "axis": {"orient": "left", "offset": -33, "values": [0,25,50,75,100], "title": "Firing rate (Hz)", "titleFontSize": 8.5, "titleX": -16, "titleY": 84}}}},
  {"data": {"name": "refs"}, "transform": [{"filter": "datum.p=='A'&&datum.k=='m'"}], "mark": {"type": "rule", "color": "#3a3ae6", "strokeWidth": 1.3},
   "encoding": {"x": {"field": "a", "type": "quantitative"}, "x2": {"field": "b"}, "y": {"field": "y", "type": "quantitative"}}},
  {"data": {"name": "refs"}, "transform": [{"filter": "datum.p=='A'&&datum.k=='d'"}], "mark": {"type": "rule", "color": "#3a3ae6", "strokeWidth": 1.3, "strokeDash": [9, 5]},
   "encoding": {"x": {"field": "a", "type": "quantitative"}, "x2": {"field": "b"}, "y": {"field": "y", "type": "quantitative"}}},
  {"data": {"name": "arrows"}, "transform": [{"filter": "datum.p=='A'"}], "mark": {"type": "rule", "color": "#000", "strokeWidth": 1.2},
   "encoding": {"x": {"field": "t", "type": "quantitative"}, "y": {"field": "tip", "type": "quantitative"}, "y2": {"field": "end"}}},
  {"data": {"name": "arrows"}, "transform": [{"filter": "datum.p=='A'"}], "mark": {"type": "point", "shape": "triangle-up", "filled": true, "color": "#000", "size": 30, "opacity": 1},
   "encoding": {"x": {"field": "t", "type": "quantitative"}, "y": {"field": "tip", "type": "quantitative"}}},
  {"data": {"name": "texts"}, "transform": [{"filter": "datum.p=='A'&&datum.k=='ann'"}], "mark": {"type": "text", "color": "#3434c4", "fontSize": 10.5, "align": "center", "baseline": "middle"},
   "encoding": {"x": {"field": "t", "type": "quantitative"}, "y": {"field": "v", "type": "quantitative"}, "text": {"field": "txt"}}},
  {"data": {"name": "texts"}, "transform": [{"filter": "datum.p=='A'&&datum.k=='title'"}], "mark": {"type": "text", "color": "#3434c4", "fontSize": 12, "align": "center", "baseline": "alphabetic"},
   "encoding": {"x": {"field": "t", "type": "quantitative"}, "y": {"field": "v", "type": "quantitative"}, "text": {"field": "txt"}}},
  {"data": {"name": "texts"}, "transform": [{"filter": "datum.p=='A'&&datum.k=='letter'"}], "mark": {"type": "text", "color": "#000", "fontSize": 26, "align": "left", "baseline": "alphabetic"},
   "encoding": {"x": {"field": "t", "type": "quantitative"}, "y": {"field": "v", "type": "quantitative"}, "text": {"field": "txt"}}}
 ]},
 {"layer": [
  {"data": {"name": "B"}, "mark": {"type": "line", "color": "#000", "strokeWidth": 1.1},
   "encoding": {
    "x": {"field": "t", "type": "quantitative", "scale": {"domain": [-50, 500], "range": [33, 309], "nice": false, "zero": false},
          "axis": {"orient": "bottom", "offset": -327, "values": [0,100,200,300,400,450,500], "labelExpr": "datum.value==450?'ms':datum.label", "tickOpacity": {"condition": {"test": "datum.value==450", "value": 0}, "value": 1}, "title": null}},
    "y": {"field": "v", "type": "quantitative", "scale": {"domain": [0, 150], "range": [273, 151], "nice": false, "zero": false},
          "axis": {"orient": "left", "offset": -33, "values": [0,25,50,75,100,125,150], "title": null}}}},
  {"data": {"name": "refs"}, "transform": [{"filter": "datum.p=='B'&&datum.k=='m'"}], "mark": {"type": "rule", "color": "#3a3ae6", "strokeWidth": 1.3},
   "encoding": {"x": {"field": "a", "type": "quantitative"}, "x2": {"field": "b"}, "y": {"field": "y", "type": "quantitative"}}},
  {"data": {"name": "refs"}, "transform": [{"filter": "datum.p=='B'&&datum.k=='d'"}], "mark": {"type": "rule", "color": "#3a3ae6", "strokeWidth": 1.3, "strokeDash": [9, 5]},
   "encoding": {"x": {"field": "a", "type": "quantitative"}, "x2": {"field": "b"}, "y": {"field": "y", "type": "quantitative"}}},
  {"data": {"name": "arrows"}, "transform": [{"filter": "datum.p=='B'"}], "mark": {"type": "rule", "color": "#000", "strokeWidth": 1.2},
   "encoding": {"x": {"field": "t", "type": "quantitative"}, "y": {"field": "tip", "type": "quantitative"}, "y2": {"field": "end"}}},
  {"data": {"name": "arrows"}, "transform": [{"filter": "datum.p=='B'"}], "mark": {"type": "point", "shape": "triangle-up", "filled": true, "color": "#000", "size": 30, "opacity": 1},
   "encoding": {"x": {"field": "t", "type": "quantitative"}, "y": {"field": "tip", "type": "quantitative"}}},
  {"data": {"name": "texts"}, "transform": [{"filter": "datum.p=='B'&&datum.k=='ann'"}], "mark": {"type": "text", "color": "#3434c4", "fontSize": 10.5, "align": "center", "baseline": "middle"},
   "encoding": {"x": {"field": "t", "type": "quantitative"}, "y": {"field": "v", "type": "quantitative"}, "text": {"field": "txt"}}},
  {"data": {"name": "texts"}, "transform": [{"filter": "datum.p=='B'&&datum.k=='letter'"}], "mark": {"type": "text", "color": "#000", "fontSize": 26, "align": "left", "baseline": "alphabetic"},
   "encoding": {"x": {"field": "t", "type": "quantitative"}, "y": {"field": "v", "type": "quantitative"}, "text": {"field": "txt"}}}
 ]},
 {"layer": [
  {"data": {"name": "C"}, "mark": {"type": "line", "color": "#000", "strokeWidth": 1.1},
   "encoding": {
    "x": {"field": "t", "type": "quantitative", "scale": {"domain": [-50, 500], "range": [357, 632], "nice": false, "zero": false},
          "axis": {"orient": "bottom", "offset": -469, "values": [0,100,200,300,400,450,500], "labelExpr": "datum.value==450?'ms':datum.label", "tickOpacity": {"condition": {"test": "datum.value==450", "value": 0}, "value": 1}, "title": null}},
    "y": {"field": "v", "type": "quantitative", "scale": {"domain": [0, 125], "range": [131, 29], "nice": false, "zero": false},
          "axis": {"orient": "left", "offset": -357, "values": [0,25,50,75,100,125], "title": "Firing rate (Hz)", "titleFontSize": 10, "titleX": -19, "titleY": 90}}}},
  {"data": {"name": "refs"}, "transform": [{"filter": "datum.p=='C'&&datum.k=='m'"}], "mark": {"type": "rule", "color": "#ee2e2e", "strokeWidth": 1.3},
   "encoding": {"x": {"field": "a", "type": "quantitative"}, "x2": {"field": "b"}, "y": {"field": "y", "type": "quantitative"}}},
  {"data": {"name": "refs"}, "transform": [{"filter": "datum.p=='C'&&datum.k=='d'"}], "mark": {"type": "rule", "color": "#ee2e2e", "strokeWidth": 1.3, "strokeDash": [9, 5]},
   "encoding": {"x": {"field": "a", "type": "quantitative"}, "x2": {"field": "b"}, "y": {"field": "y", "type": "quantitative"}}},
  {"data": {"name": "arrows"}, "transform": [{"filter": "datum.p=='C'"}], "mark": {"type": "rule", "color": "#000", "strokeWidth": 1.2},
   "encoding": {"x": {"field": "t", "type": "quantitative"}, "y": {"field": "tip", "type": "quantitative"}, "y2": {"field": "end"}}},
  {"data": {"name": "arrows"}, "transform": [{"filter": "datum.p=='C'"}], "mark": {"type": "point", "shape": "triangle-up", "filled": true, "color": "#000", "size": 30, "opacity": 1},
   "encoding": {"x": {"field": "t", "type": "quantitative"}, "y": {"field": "tip", "type": "quantitative"}}},
  {"data": {"name": "texts"}, "transform": [{"filter": "datum.p=='C'&&datum.k=='ann'"}], "mark": {"type": "text", "color": "#e8242c", "fontSize": 10.5, "align": "center", "baseline": "middle"},
   "encoding": {"x": {"field": "t", "type": "quantitative"}, "y": {"field": "v", "type": "quantitative"}, "text": {"field": "txt"}}},
  {"data": {"name": "texts"}, "transform": [{"filter": "datum.p=='C'&&datum.k=='title'"}], "mark": {"type": "text", "color": "#e8242c", "fontSize": 12, "align": "center", "baseline": "alphabetic"},
   "encoding": {"x": {"field": "t", "type": "quantitative"}, "y": {"field": "v", "type": "quantitative"}, "text": {"field": "txt"}}},
  {"data": {"name": "texts"}, "transform": [{"filter": "datum.p=='C'&&datum.k=='letter'"}], "mark": {"type": "text", "color": "#000", "fontSize": 25, "align": "left", "baseline": "alphabetic"},
   "encoding": {"x": {"field": "t", "type": "quantitative"}, "y": {"field": "v", "type": "quantitative"}, "text": {"field": "txt"}}}
 ]},
 {"layer": [
  {"data": {"name": "D"}, "mark": {"type": "line", "color": "#000", "strokeWidth": 1.1},
   "encoding": {
    "x": {"field": "t", "type": "quantitative", "scale": {"domain": [-50, 500], "range": [357, 632], "nice": false, "zero": false},
          "axis": {"orient": "bottom", "offset": -353, "values": [0,100,200,300,400,450,500], "labelExpr": "datum.value==450?'ms':datum.label", "tickOpacity": {"condition": {"test": "datum.value==450", "value": 0}, "value": 1}, "title": null}},
    "y": {"field": "v", "type": "quantitative", "scale": {"domain": [0, 75], "range": [247, 186], "nice": false, "zero": false},
          "axis": {"orient": "left", "offset": -357, "values": [0,25,50,75], "title": null}}}},
  {"data": {"name": "refs"}, "transform": [{"filter": "datum.p=='D'&&datum.k=='m'"}], "mark": {"type": "rule", "color": "#ee2e2e", "strokeWidth": 1.3},
   "encoding": {"x": {"field": "a", "type": "quantitative"}, "x2": {"field": "b"}, "y": {"field": "y", "type": "quantitative"}}},
  {"data": {"name": "refs"}, "transform": [{"filter": "datum.p=='D'&&datum.k=='d'"}], "mark": {"type": "rule", "color": "#ee2e2e", "strokeWidth": 1.3, "strokeDash": [9, 5]},
   "encoding": {"x": {"field": "a", "type": "quantitative"}, "x2": {"field": "b"}, "y": {"field": "y", "type": "quantitative"}}},
  {"data": {"name": "arrows"}, "transform": [{"filter": "datum.p=='D'"}], "mark": {"type": "rule", "color": "#000", "strokeWidth": 1.2},
   "encoding": {"x": {"field": "t", "type": "quantitative"}, "y": {"field": "tip", "type": "quantitative"}, "y2": {"field": "end"}}},
  {"data": {"name": "arrows"}, "transform": [{"filter": "datum.p=='D'"}], "mark": {"type": "point", "shape": "triangle-up", "filled": true, "color": "#000", "size": 30, "opacity": 1},
   "encoding": {"x": {"field": "t", "type": "quantitative"}, "y": {"field": "tip", "type": "quantitative"}}},
  {"data": {"name": "texts"}, "transform": [{"filter": "datum.p=='D'&&datum.k=='ann'"}], "mark": {"type": "text", "color": "#e8242c", "fontSize": 10.5, "align": "center", "baseline": "middle"},
   "encoding": {"x": {"field": "t", "type": "quantitative"}, "y": {"field": "v", "type": "quantitative"}, "text": {"field": "txt"}}},
  {"data": {"name": "texts"}, "transform": [{"filter": "datum.p=='D'&&datum.k=='letter'"}], "mark": {"type": "text", "color": "#000", "fontSize": 25, "align": "left", "baseline": "alphabetic"},
   "encoding": {"x": {"field": "t", "type": "quantitative"}, "y": {"field": "v", "type": "quantitative"}, "text": {"field": "txt"}}}
 ]},
 {"layer": [
  {"data": {"name": "Eb"}, "mark": {"type": "line", "color": "#2020cc", "strokeWidth": 1.1},
   "encoding": {
    "x": {"field": "t", "type": "quantitative", "scale": {"domain": [-50, 500], "range": [35, 632], "nice": false, "zero": false},
          "axis": {"orient": "bottom", "offset": -34, "values": [0,100,200,300,400,450,500], "labelExpr": "datum.value==450?'ms':datum.label", "tickOpacity": {"condition": {"test": "datum.value==450", "value": 0}, "value": 1}, "title": null}},
    "y": {"field": "v", "type": "quantitative", "scale": {"domain": [-32, 100], "range": [566, 316], "nice": false, "zero": false},
          "axis": {"orient": "left", "offset": -35, "values": [-25,0,25,50,75,100], "title": "Firing rate (Hz)", "titleFontSize": 10, "titleX": -21, "titleY": 432}}}},
  {"data": {"name": "Er"}, "mark": {"type": "line", "color": "#e81e1e", "strokeWidth": 1.1},
   "encoding": {"x": {"field": "t", "type": "quantitative"}, "y": {"field": "v", "type": "quantitative"}}},
  {"data": {"name": "Eg"}, "mark": {"type": "line", "color": "#2e9e2e", "strokeWidth": 1.1},
   "encoding": {"x": {"field": "t", "type": "quantitative"}, "y": {"field": "v", "type": "quantitative"}}},
  {"data": {"name": "refs"}, "transform": [{"filter": "datum.p=='E'&&datum.k=='z'"}], "mark": {"type": "rule", "color": "#000", "strokeWidth": 1.2},
   "encoding": {"x": {"field": "a", "type": "quantitative"}, "x2": {"field": "b"}, "y": {"field": "y", "type": "quantitative"}}},
  {"data": {"name": "refs"}, "transform": [{"filter": "datum.p=='E'&&datum.k=='bm'"}], "mark": {"type": "rule", "color": "#2a2ae0", "strokeWidth": 1.3},
   "encoding": {"x": {"field": "a", "type": "quantitative"}, "x2": {"field": "b"}, "y": {"field": "y", "type": "quantitative"}}},
  {"data": {"name": "refs"}, "transform": [{"filter": "datum.p=='E'&&datum.k=='bd'"}], "mark": {"type": "rule", "color": "#2a2ae0", "strokeWidth": 1.3, "strokeDash": [11, 5]},
   "encoding": {"x": {"field": "a", "type": "quantitative"}, "x2": {"field": "b"}, "y": {"field": "y", "type": "quantitative"}}},
  {"data": {"name": "refs"}, "transform": [{"filter": "datum.p=='E'&&datum.k=='rm'"}], "mark": {"type": "rule", "color": "#ee3030", "strokeWidth": 1.3},
   "encoding": {"x": {"field": "a", "type": "quantitative"}, "x2": {"field": "b"}, "y": {"field": "y", "type": "quantitative"}}},
  {"data": {"name": "refs"}, "transform": [{"filter": "datum.p=='E'&&datum.k=='rd'"}], "mark": {"type": "rule", "color": "#ee3030", "strokeWidth": 1.3, "strokeDash": [11, 5]},
   "encoding": {"x": {"field": "a", "type": "quantitative"}, "x2": {"field": "b"}, "y": {"field": "y", "type": "quantitative"}}},
  {"data": {"name": "refs"}, "transform": [{"filter": "datum.p=='E'&&datum.k=='gd'"}], "mark": {"type": "rule", "color": "#33aa33", "strokeWidth": 1.2, "strokeDash": [11, 5]},
   "encoding": {"x": {"field": "a", "type": "quantitative"}, "x2": {"field": "b"}, "y": {"field": "y", "type": "quantitative"}}},
  {"data": {"name": "arrows"}, "transform": [{"filter": "datum.p=='E'"}], "mark": {"type": "rule", "color": "#000", "strokeWidth": 1.2},
   "encoding": {"x": {"field": "t", "type": "quantitative"}, "y": {"field": "tip", "type": "quantitative"}, "y2": {"field": "end"}}},
  {"data": {"name": "arrows"}, "transform": [{"filter": "datum.p=='E'"}], "mark": {"type": "point", "shape": "triangle-up", "filled": true, "color": "#000", "size": 30, "opacity": 1},
   "encoding": {"x": {"field": "t", "type": "quantitative"}, "y": {"field": "tip", "type": "quantitative"}}},
  {"data": {"name": "texts"}, "transform": [{"filter": "datum.p=='E'&&datum.k=='blue'"}], "mark": {"type": "text", "color": "#2a2ad0", "fontSize": 10.5, "align": "left", "baseline": "middle"},
   "encoding": {"x": {"field": "t", "type": "quantitative"}, "y": {"field": "v", "type": "quantitative"}, "text": {"field": "txt"}}},
  {"data": {"name": "texts"}, "transform": [{"filter": "datum.p=='E'&&datum.k=='red'"}], "mark": {"type": "text", "color": "#e8242c", "fontSize": 10.5, "align": "left", "baseline": "middle"},
   "encoding": {"x": {"field": "t", "type": "quantitative"}, "y": {"field": "v", "type": "quantitative"}, "text": {"field": "txt"}}},
  {"data": {"name": "texts"}, "transform": [{"filter": "datum.p=='E'&&datum.k=='green'"}], "mark": {"type": "text", "color": "#3aaa3a", "fontSize": 10.5, "align": "left", "baseline": "middle"},
   "encoding": {"x": {"field": "t", "type": "quantitative"}, "y": {"field": "v", "type": "quantitative"}, "text": {"field": "txt"}}},
  {"data": {"name": "texts"}, "transform": [{"filter": "datum.p=='E'&&datum.k=='letter'"}], "mark": {"type": "text", "color": "#000", "fontSize": 26, "align": "left", "baseline": "alphabetic"},
   "encoding": {"x": {"field": "t", "type": "quantitative"}, "y": {"field": "v", "type": "quantitative"}, "text": {"field": "txt"}}}
 ]},
 {"layer": [
  {"data": {"name": "Fg"}, "mark": {"type": "line", "color": "#22aa22", "strokeWidth": 1.1},
   "encoding": {
    "x": {"field": "t", "type": "quantitative", "scale": {"domain": [-50, 500], "range": [357, 632], "nice": false, "zero": false},
          "axis": {"orient": "bottom", "offset": -245, "values": [0,100,200,300,400,450,500], "labelExpr": "datum.value==450?'ms':datum.label", "tickOpacity": {"condition": {"test": "datum.value==450", "value": 0}, "value": 1}, "title": null}},
    "y": {"field": "v", "type": "quantitative", "scale": {"domain": [0, 50], "range": [355, 313.6], "nice": false, "zero": false},
          "axis": {"orient": "left", "offset": -357, "values": [0,25,50], "title": null}}}},
  {"data": {"name": "Fb"}, "mark": {"type": "line", "color": "#000", "strokeWidth": 1.1},
   "encoding": {"x": {"field": "t", "type": "quantitative"}, "y": {"field": "v", "type": "quantitative"}}},
  {"data": {"name": "refs"}, "transform": [{"filter": "datum.p=='F'&&datum.k=='m'"}], "mark": {"type": "rule", "color": "#ee2e2e", "strokeWidth": 1.3},
   "encoding": {"x": {"field": "a", "type": "quantitative"}, "x2": {"field": "b"}, "y": {"field": "y", "type": "quantitative"}}},
  {"data": {"name": "refs"}, "transform": [{"filter": "datum.p=='F'&&datum.k=='d'"}], "mark": {"type": "rule", "color": "#f05050", "strokeWidth": 1.3, "strokeDash": [9, 5]},
   "encoding": {"x": {"field": "a", "type": "quantitative"}, "x2": {"field": "b"}, "y": {"field": "y", "type": "quantitative"}}},
  {"data": {"name": "arrows"}, "transform": [{"filter": "datum.p=='F'"}], "mark": {"type": "rule", "color": "#000", "strokeWidth": 1.2},
   "encoding": {"x": {"field": "t", "type": "quantitative"}, "y": {"field": "tip", "type": "quantitative"}, "y2": {"field": "end"}}},
  {"data": {"name": "arrows"}, "transform": [{"filter": "datum.p=='F'"}], "mark": {"type": "point", "shape": "triangle-up", "filled": true, "color": "#000", "size": 30, "opacity": 1},
   "encoding": {"x": {"field": "t", "type": "quantitative"}, "y": {"field": "tip", "type": "quantitative"}}},
  {"data": {"name": "texts"}, "transform": [{"filter": "datum.p=='F'&&datum.k=='ann'"}], "mark": {"type": "text", "color": "#e8242c", "fontSize": 10.5, "align": "center", "baseline": "middle"},
   "encoding": {"x": {"field": "t", "type": "quantitative"}, "y": {"field": "v", "type": "quantitative"}, "text": {"field": "txt"}}},
  {"data": {"name": "texts"}, "transform": [{"filter": "datum.p=='F'&&datum.k=='letter'"}], "mark": {"type": "text", "color": "#000", "fontSize": 25, "align": "left", "baseline": "alphabetic"},
   "encoding": {"x": {"field": "t", "type": "quantitative"}, "y": {"field": "v", "type": "quantitative"}, "text": {"field": "txt"}}}
 ]}
],
"resolve": {"scale": {"x": "independent", "y": "independent"}}
}
